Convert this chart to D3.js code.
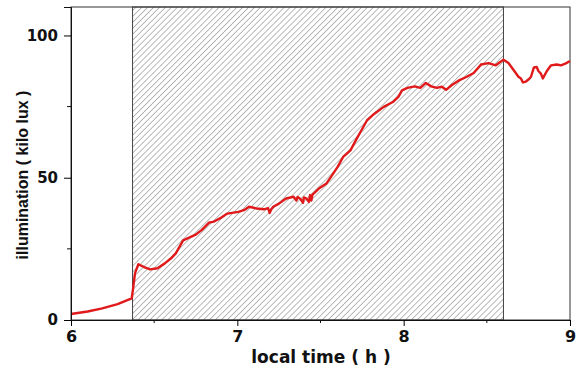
<!DOCTYPE html>
<html>
<head>
<meta charset="utf-8">
<script src="https://cdn.jsdelivr.net/npm/d3@7"></script>
<style>
  html, body { margin: 0; padding: 0; background: #fff; }
  svg text { font-weight: bold; }
</style>
</head>
<body>
<svg id="chart" width="576" height="374"></svg>
<script>
// Data
const timeH = [6.0, 6.1, 6.188, 6.28, 6.365, 6.372, 6.385, 6.405, 6.44, 6.475, 6.52, 6.564, 6.6, 6.63, 6.674, 6.72, 6.75, 6.785, 6.83, 6.86, 6.895, 6.94, 7.006, 7.04, 7.07, 7.116, 7.16, 7.185, 7.194, 7.205, 7.216, 7.25, 7.293, 7.338, 7.355, 7.362, 7.38, 7.395, 7.40, 7.415, 7.43, 7.437, 7.445, 7.452, 7.46, 7.49, 7.536, 7.57, 7.603, 7.636, 7.68, 7.713, 7.746, 7.78, 7.824, 7.88, 7.935, 7.968, 7.99, 8.023, 8.067, 8.1, 8.133, 8.166, 8.2, 8.23, 8.255, 8.288, 8.332, 8.377, 8.421, 8.465, 8.51, 8.554, 8.60, 8.63, 8.663, 8.69, 8.705, 8.717, 8.735, 8.75, 8.765, 8.783, 8.80, 8.81, 8.825, 8.837, 8.861, 8.886, 8.92, 8.946, 8.975, 9.0];
const illum = [2.1, 3.0, 4.1, 5.6, 7.6, 10.5, 16.5, 19.6, 18.6, 17.8, 18.2, 19.9, 21.6, 23.4, 28.0, 29.2, 30.0, 31.6, 34.2, 34.6, 35.7, 37.4, 38.0, 38.6, 39.8, 39.2, 38.9, 39.3, 37.6, 39.0, 39.8, 40.9, 42.7, 43.3, 42.0, 43.2, 42.5, 41.2, 43.1, 42.7, 41.5, 43.9, 42.0, 44.1, 44.5, 46.2, 48.0, 50.9, 53.8, 57.3, 59.6, 63.2, 66.7, 70.2, 72.5, 74.9, 76.6, 78.4, 80.7, 81.6, 82.1, 81.6, 83.3, 82.1, 81.6, 82.0, 80.9, 82.5, 84.2, 85.4, 86.8, 89.8, 90.3, 89.5, 91.5, 90.3, 87.7, 85.5, 84.9, 83.5, 83.8, 84.5, 85.4, 88.8, 88.9, 87.5, 86.6, 84.9, 87.5, 89.5, 89.8, 89.5, 90.2, 91.0];
const shadedRange = [6.37, 8.60];
const xTicks = [6, 7, 8, 9];
const xMinorTicks = [6.5, 7.5, 8.5];
const yTicks = [0, 50, 100];
const yMinorTicks = [25, 75];
const xTitle = "local time ( h )";
const yTitle = "illumination ( kilo lux )";

const svg = d3.select("#chart");
const margin = { left: 71, right: 6, top: 7, bottom: 54 };
const W = 576, H = 374;
const x = d3.scaleLinear().domain([6, 9]).range([margin.left, W - margin.right]);
const y = d3.scaleLinear().domain([0, 110]).range([H - margin.bottom, margin.top]);

// hatch pattern
const defs = svg.append("defs");
const pat = defs.append("pattern")
  .attr("id", "hatch").attr("patternUnits", "userSpaceOnUse")
  .attr("width", 4.2).attr("height", 4.2)
  .attr("patternTransform", "rotate(45)");
pat.append("line").attr("x1", 0).attr("y1", 0).attr("x2", 0).attr("y2", 4.2)
  .attr("stroke", "#8c8c8c").attr("stroke-width", 1.2);

svg.append("rect")
  .attr("x", x(shadedRange[0])).attr("y", y(110))
  .attr("width", x(shadedRange[1]) - x(shadedRange[0]))
  .attr("height", y(0) - y(110))
  .attr("fill", "url(#hatch)")
  .attr("stroke", "#444").attr("stroke-width", 1);

// frame
svg.append("rect")
  .attr("x", x(6)).attr("y", y(110))
  .attr("width", x(9) - x(6)).attr("height", y(0) - y(110))
  .attr("fill", "none").attr("stroke", "#333").attr("stroke-width", 1);

// line
const line = d3.line().x((d, i) => x(timeH[i])).y(d => y(d));
svg.append("path").datum(illum)
  .attr("d", line)
  .attr("fill", "none").attr("stroke", "#e0191b").attr("stroke-width", 2.4)
  .attr("stroke-linejoin", "round");

const tickFont = "'DejaVu Sans', sans-serif";

// axes
const xAxis = d3.axisBottom(x).tickValues(xTicks).tickFormat(d3.format("d")).tickSize(6).tickPadding(5);
const gx = svg.append("g").attr("transform", `translate(0,${y(0)})`).call(xAxis);
gx.select(".domain").attr("stroke", "#111");
gx.selectAll("text").attr("font-size", 16).attr("font-family", tickFont).attr("fill", "#111");
gx.selectAll(".minor").data(xMinorTicks).enter().append("line")
  .attr("x1", d => x(d)).attr("x2", d => x(d)).attr("y1", 0).attr("y2", 3)
  .attr("stroke", "#111");

const yAxis = d3.axisLeft(y).tickValues(yTicks).tickFormat(d3.format("d")).tickSize(7).tickPadding(6);
const gy = svg.append("g").attr("transform", `translate(${x(6)},0)`).call(yAxis);
gy.select(".domain").attr("stroke", "#111");
gy.selectAll("text").attr("font-size", 15).attr("font-family", tickFont).attr("fill", "#111");
gy.selectAll(".minor").data(yMinorTicks).enter().append("line")
  .attr("y1", d => y(d)).attr("y2", d => y(d)).attr("x1", 0).attr("x2", -4)
  .attr("stroke", "#111");

// titles
svg.append("text").attr("x", 321).attr("y", 363)
  .attr("text-anchor", "middle").attr("font-size", 17).attr("font-family", tickFont)
  .attr("fill", "#111").text(xTitle);
svg.append("text").attr("transform", `translate(28,175) rotate(-90)`)
  .attr("text-anchor", "middle").attr("font-size", 16)
  .attr("font-family", "'Liberation Sans', Arial, sans-serif")
  .attr("fill", "#111").text(yTitle);
</script>
</body>
</html>
